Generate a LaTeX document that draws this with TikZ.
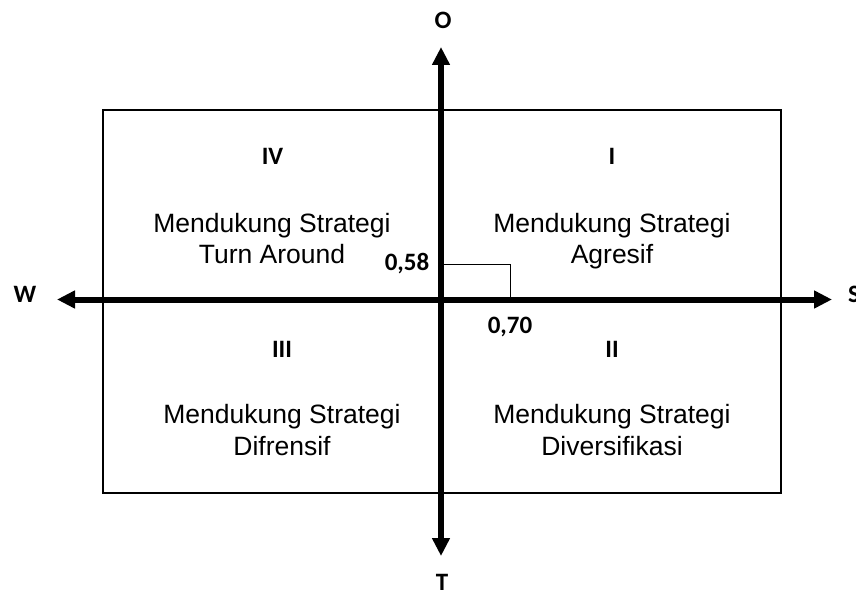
\documentclass[tikz,border=0pt]{standalone}
\usepackage{fontspec}
\setmainfont{Liberation Sans}
\newfontfamily\labfont{Carlito}
\usetikzlibrary{arrows.meta}
\begin{document}
\begin{tikzpicture}[x=1pt,y=-1pt,
  axis/.style={line width=6pt,{Triangle[length=18pt,width=17pt]}-{Triangle[length=18pt,width=17pt]}},
  frame/.style={draw=black,line width=2.2pt},
  marker/.style={draw=black,line width=1pt},
  quadtext/.style={inner sep=0pt,anchor=base,font=\fontsize{26.5}{31}\selectfont},
  lab/.style={inner sep=0pt,anchor=base,font=\labfont\bfseries\fontsize{25}{30}\selectfont}]
\useasboundingbox (0,0) rectangle (856,594);
% frame
\coordinate (bl) at (103,493);
\coordinate (tr) at (781,110);
\draw[frame] (bl) rectangle (tr);
% axes
\coordinate (otip) at (441,47);
\coordinate (ttip) at (441,556);
\coordinate (wtip) at (57,299.5);
\coordinate (stip) at (832,299.5);
\draw[axis] (wtip) -- (stip);
\draw[axis] (otip) -- (ttip);
% marker
\coordinate (mtop) at (444,264);
\coordinate (mright) at (510,264);
\coordinate (mbot) at (510,297);
\draw[marker] (mtop) -- (mright) -- (mbot);
% axis labels
\node[lab] (O) at (443,29) {O};
\node[lab] (T) at (442,590) {T};
\node[lab] (W) at (25,302) {W};
\node[lab,anchor=base west] (S) at (848,302) {S};
\node[lab] (v58) at (407,270) {0,58};
\node[lab] (v70) at (510,333) {0,70};
% quadrant numerals
\node[lab] (IV) at (272.5,164) {IV};
\node[lab] (I) at (612,164) {I};
\node[lab] (III) at (282,357) {III};
\node[lab] (II) at (612,357) {II};
% quadrant texts
\node[quadtext] (q4a) at (272,232) {Mendukung Strategi};
\node[quadtext] (q4b) at (272,263) {Turn Around};
\node[quadtext] (q1a) at (612,232) {Mendukung Strategi};
\node[quadtext] (q1b) at (612,263) {Agresif};
\node[quadtext] (q3a) at (282,423) {Mendukung Strategi};
\node[quadtext] (q3b) at (282,455) {Difrensif};
\node[quadtext] (q2a) at (612,423) {Mendukung Strategi};
\node[quadtext] (q2b) at (612,455) {Diversifikasi};
\end{tikzpicture}
\end{document}
